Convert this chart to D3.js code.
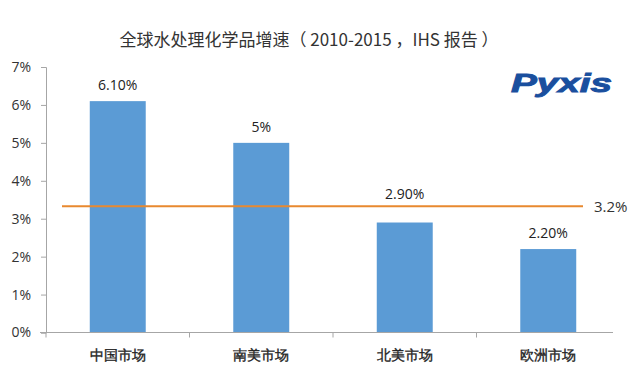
<!DOCTYPE html>
<html><head><meta charset="utf-8">
<script src="https://cdn.jsdelivr.net/npm/d3@7"></script>
<style>
body{margin:0;background:#fff;}
svg{display:block;font-family:"Noto Sans CJK SC","Open Sans",sans-serif;}
</style></head>
<body><svg id="chart" width="640" height="374"></svg>
<script>
const categories=["中国市场","南美市场","北美市场","欧洲市场"];
const values=[6.1,5,2.9,2.2];
const valueLabels=["6.10%","5%","2.90%","2.20%"];
const avgValue=3.33;
const avgLabel="3.2%";
const yTicks=[0,1,2,3,4,5,6,7];

const svg=d3.select("#chart");
const x=d3.scaleBand().domain(categories).range([46,620]);
const y=d3.scaleLinear().domain([0,7]).range([332.5,67]);
const barW=x.bandwidth()*0.39;

/* title */
svg.append("text").attr("x",309).attr("y",46).attr("text-anchor","middle")
  .attr("font-size",17).attr("fill","#333").text("全球水处理化学品增速（ 2010-2015 ，IHS 报告 ）");

/* logo */
svg.append("text").attr("x",511).attr("y",92).attr("font-family","'Liberation Sans',sans-serif")
  .attr("font-weight","bold").attr("font-style","italic").attr("font-size",25)
  .attr("textLength",101).attr("lengthAdjust","spacingAndGlyphs")
  .attr("fill","#1a4f9e").attr("stroke","#1a4f9e").attr("stroke-width",0.9).text("Pyxis");

/* y axis */
const yAxis=svg.append("g").attr("transform","translate(46,0)")
  .call(d3.axisLeft(y).tickValues(yTicks).tickFormat(d=>d+"%").tickSize(5).tickPadding(10));
yAxis.select(".domain").attr("stroke","#a6a6a6");
yAxis.selectAll(".tick line").attr("stroke","#a6a6a6");
yAxis.selectAll("text").attr("font-size",14).attr("fill","#333").attr("font-family","'Open Sans',sans-serif");

/* bars */
svg.append("g").selectAll("rect").data(values).join("rect")
  .attr("x",(d,i)=>x(categories[i])+x.bandwidth()/2-barW/2)
  .attr("y",d=>y(d)).attr("width",barW).attr("height",d=>y(0)-y(d))
  .attr("fill","#5b9bd5");

/* value labels, pushed above the average line when they would sit on it */
const labelY=d=>{
  let ly=y(d)-11;
  if(ly>y(avgValue)-4 && ly-14<y(avgValue)+4) ly=y(avgValue)-7;
  return ly;
};
svg.append("g").selectAll("text").data(values).join("text")
  .attr("x",(d,i)=>x(categories[i])+x.bandwidth()/2)
  .attr("y",labelY).attr("text-anchor","middle")
  .attr("font-size",14).attr("fill","#222").attr("font-family","'Open Sans',sans-serif")
  .text((d,i)=>valueLabels[i]);

/* x axis */
const xAxis=svg.append("g").attr("transform",`translate(0,${y(0)})`)
  .call(d3.axisBottom(x).tickSize(0).tickPadding(18));
xAxis.select(".domain").attr("stroke","#a6a6a6").attr("d","M40,0H613");
xAxis.selectAll("text").attr("font-size",14).attr("fill","#222")
  .attr("stroke","#222").attr("stroke-width",0.35);
const bounds=x.domain().map(c=>x(c));
xAxis.selectAll(".sep").data(bounds).join("line").attr("class","sep")
  .attr("x1",d=>d).attr("x2",d=>d).attr("y1",0).attr("y2",5).attr("stroke","#a6a6a6");

/* average line */
svg.append("line").attr("x1",62).attr("x2",583).attr("y1",y(avgValue)).attr("y2",y(avgValue))
  .attr("stroke","#e8892f").attr("stroke-width",2);
svg.append("text").attr("x",594).attr("y",y(avgValue)+6).attr("font-size",15)
  .attr("fill","#333").attr("font-family","'Open Sans',sans-serif").text(avgLabel);
</script></body></html>
